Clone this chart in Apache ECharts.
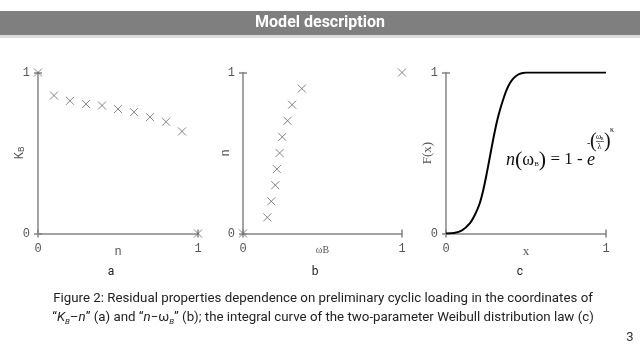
<!DOCTYPE html>
<html>
<head>
<meta charset="utf-8">
<script src="https://cdn.jsdelivr.net/npm/echarts@6/dist/echarts.min.js"></script>
<style>
html,body{margin:0;padding:0;background:#fff;}
#c{width:640px;height:360px;}
</style>
</head>
<body>
<div id="c"></div>
<script>
// Panel a: K_B vs n
const aN  = [0, 0.1, 0.2, 0.3, 0.4, 0.5, 0.6, 0.7, 0.8, 0.9, 1];
const aKB = [1, 0.857, 0.824, 0.804, 0.795, 0.773, 0.754, 0.723, 0.694, 0.634, 0];
// Panel b: n vs omega_B
const bW = [0, 0.153, 0.178, 0.203, 0.213, 0.230, 0.247, 0.280, 0.309, 0.370, 1];
const bN = [0, 0.1, 0.2, 0.3, 0.4, 0.5, 0.6, 0.7, 0.8, 0.9, 1];
// Panel c: Weibull integral curve
const cX = [0, 0.05, 0.1, 0.15, 0.18, 0.21, 0.233, 0.254, 0.275, 0.296, 0.317, 0.338, 0.36, 0.38, 0.4, 0.42, 0.44, 0.46, 0.48, 0.5, 0.52, 1];
const cF = [0, 0.003, 0.02, 0.065, 0.115, 0.185, 0.27, 0.37, 0.48, 0.59, 0.69, 0.77, 0.84, 0.895, 0.935, 0.962, 0.98, 0.991, 0.997, 1, 1, 1];
const axisTicks = [0, 1];
const subLabels = ['a', 'b', 'c'];

const chart = echarts.init(document.getElementById('c'), null, {renderer: 'canvas'});
const AX = '#858585';
const LBL = {color: '#555', fontFamily: 'Liberation Mono', fontSize: 12};
const grids = [
  {left: 38, top: 72.5, width: 160, height: 161},
  {left: 243, top: 72.5, width: 159, height: 161},
  {left: 446, top: 72.5, width: 160, height: 161}
];
const xNames = ['n', 'ωB', 'x'];
const xNameFont = ['Liberation Mono', 'Liberation Serif', 'Liberation Serif'];
const xNameSize = [12, 10, 13];
const yNames = ['{k|K}{s|B}', 'n', 'F(x)'];
const yNameFont = ['Liberation Mono', 'Liberation Mono', 'Liberation Serif'];
const yNameSize = [12, 12, 13];
const yNameGap = [12, 11, 12];
const xAxes = [], yAxes = [];
grids.forEach((g, i) => {
  xAxes.push({type: 'value', gridIndex: i, min: 0, max: 1, interval: 1, position: 'bottom',
    axisLine: {onZero: false, lineStyle: {color: AX, width: 1.5}},
    axisTick: {length: 4, lineStyle: {color: AX, width: 1.5}},
    axisLabel: Object.assign({margin: 9}, LBL), splitLine: {show: false},
    name: xNames[i], nameLocation: 'middle', nameGap: 12, nameMoveOverlap: false,
    nameTextStyle: {color: '#555', fontFamily: xNameFont[i], fontSize: xNameSize[i]}});
  xAxes.push({type: 'value', gridIndex: i, min: 0, max: 1, interval: 1, position: 'bottom',
    axisLine: {show: false, onZero: false},
    axisTick: {inside: true, length: 4, lineStyle: {color: AX, width: 1.5}},
    axisLabel: {show: false}, splitLine: {show: false}});
  yAxes.push({type: 'value', gridIndex: i, min: 0, max: 1, interval: 1, position: 'left',
    axisLine: {onZero: false, lineStyle: {color: AX, width: 1.5}},
    axisTick: {length: 4, lineStyle: {color: AX, width: 1.5}},
    axisLabel: Object.assign({margin: 8}, LBL), splitLine: {show: false},
    name: yNames[i], nameLocation: 'middle', nameGap: yNameGap[i], nameRotate: 90, nameMoveOverlap: false,
    nameTextStyle: {color: '#555', fontFamily: yNameFont[i], fontSize: yNameSize[i],
      rich: {k: {fontFamily: 'Liberation Mono', fontSize: 12, color: '#555'}, s: {fontFamily: 'Liberation Mono', fontSize: 9, color: '#555', padding: [4, 0, 0, 0]}}}});
  yAxes.push({type: 'value', gridIndex: i, min: 0, max: 1, interval: 1, position: 'left',
    axisLine: {show: false, onZero: false},
    axisTick: {inside: true, length: 4, lineStyle: {color: AX, width: 1.5}},
    axisLabel: {show: false}, splitLine: {show: false}});
});

const X = 'path://M0,0L10,10M10,0L0,10';
const mk = {color: 'none', borderColor: '#666', borderWidth: 1};

const option = {
  animation: false,
  backgroundColor: '#fff',
  grid: grids,
  xAxis: xAxes,
  yAxis: yAxes,
  series: [
    {type: 'scatter', xAxisIndex: 0, yAxisIndex: 0, symbol: X, symbolSize: 8, itemStyle: mk,
      data: aN.map((v, k) => [v, aKB[k]])},
    {type: 'scatter', xAxisIndex: 2, yAxisIndex: 2, symbol: X, symbolSize: 8, itemStyle: mk,
      data: bW.map((v, k) => [v, bN[k]])},
    {type: 'line', xAxisIndex: 4, yAxisIndex: 4, smooth: 0.3, showSymbol: false,
      lineStyle: {color: '#000', width: 2}, data: cX.map((v, k) => [v, cF[k]])}
  ],
  graphic: [
    {type: 'rect', shape: {x: 0, y: 11, width: 640, height: 24}, style: {fill: '#7f7f7f'}},
    {type: 'rect', shape: {x: 0, y: 35, width: 640, height: 3}, style: {fill: '#dcdcdc'}},
    {type: 'text', x: 320, y: 23, style: {text: 'Model description', fill: '#fff', font: 'bold 16px Roboto', textAlign: 'center', textVerticalAlign: 'middle'}},
    {type: 'text', x: 111, y: 272, style: {text: subLabels[0], fill: '#222', font: '12px Roboto', textAlign: 'center', textVerticalAlign: 'middle'}},
    {type: 'text', x: 315, y: 272, style: {text: subLabels[1], fill: '#222', font: '12px Roboto', textAlign: 'center', textVerticalAlign: 'middle'}},
    {type: 'text', x: 520, y: 272, style: {text: subLabels[2], fill: '#222', font: '12px Roboto', textAlign: 'center', textVerticalAlign: 'middle'}},
    {type: 'text', x: 323, y: 299, style: {text: 'Figure 2: Residual properties dependence on preliminary cyclic loading in the coordinates of', fill: '#222', font: '13.3px Roboto', textAlign: 'center', textVerticalAlign: 'middle'}},
    {type: 'text', x: 323, y: 318, style: {
      text: '“{i|K}{s|B}–{i|n}” (a) and “{i|n}−ω{s|B}” (b); the integral curve of the two-parameter Weibull distribution law (c)',
      fill: '#222', font: '13.3px Roboto', textAlign: 'center', textVerticalAlign: 'middle',
      rich: {i: {fontStyle: 'italic', fontFamily: 'Roboto', fontSize: 13.3, fill: '#222', lineHeight: 18},
             s: {fontStyle: 'italic', fontFamily: 'Roboto', fontSize: 8, fill: '#222', lineHeight: 18, padding: [7, 0, 0, 0]}}}},
    {type: 'text', x: 630, y: 338, style: {text: '3', fill: '#333', font: '13px Roboto', textAlign: 'center', textVerticalAlign: 'middle'}},
    // formula
    {type: 'text', x: 506, y: 160, style: {
      text: '{n|n}{p|(}{w|ω}{b|B}{p|)}{r| = 1 - }{n|e}', textVerticalAlign: 'middle',
      rich: {n: {fontFamily: 'Liberation Serif', fontStyle: 'italic', fontSize: 18, fill: '#111'},
             p: {fontFamily: 'Liberation Serif', fontSize: 22, fill: '#111'},
             w: {fontFamily: 'Liberation Serif', fontSize: 18, fill: '#111'},
             b: {fontFamily: 'Liberation Serif', fontSize: 7, fill: '#111', padding: [8, 0, 0, 0]},
             r: {fontFamily: 'Liberation Serif', fontSize: 17, fill: '#111'}}}},
    {type: 'text', x: 587, y: 143, style: {text: '-', font: '10px "Liberation Serif"', fill: '#111', textVerticalAlign: 'middle'}},
    {type: 'text', x: 590, y: 142, style: {text: '(', font: '20px "Liberation Serif"', fill: '#111', textVerticalAlign: 'middle'}},
    {type: 'text', x: 596, y: 136.5, style: {text: 'ω', font: '8px "Liberation Serif"', fill: '#111', textVerticalAlign: 'middle'}},
    {type: 'text', x: 600.5, y: 138.5, style: {text: 'B', font: '4.5px "Liberation Serif"', fill: '#111', textVerticalAlign: 'middle'}},
    {type: 'line', shape: {x1: 596, y1: 141.5, x2: 604, y2: 141.5}, style: {stroke: '#111', lineWidth: 0.6}},
    {type: 'text', x: 597.5, y: 146.5, style: {text: 'λ', font: '8px "Liberation Serif"', fill: '#111', textVerticalAlign: 'middle'}},
    {type: 'text', x: 604, y: 142, style: {text: ')', font: '20px "Liberation Serif"', fill: '#111', textVerticalAlign: 'middle'}},
    {type: 'text', x: 610, y: 130, style: {text: 'κ', font: '8px "Liberation Serif"', fill: '#111', textVerticalAlign: 'middle'}}
  ]
};
chart.setOption(option);
</script>
</body>
</html>
